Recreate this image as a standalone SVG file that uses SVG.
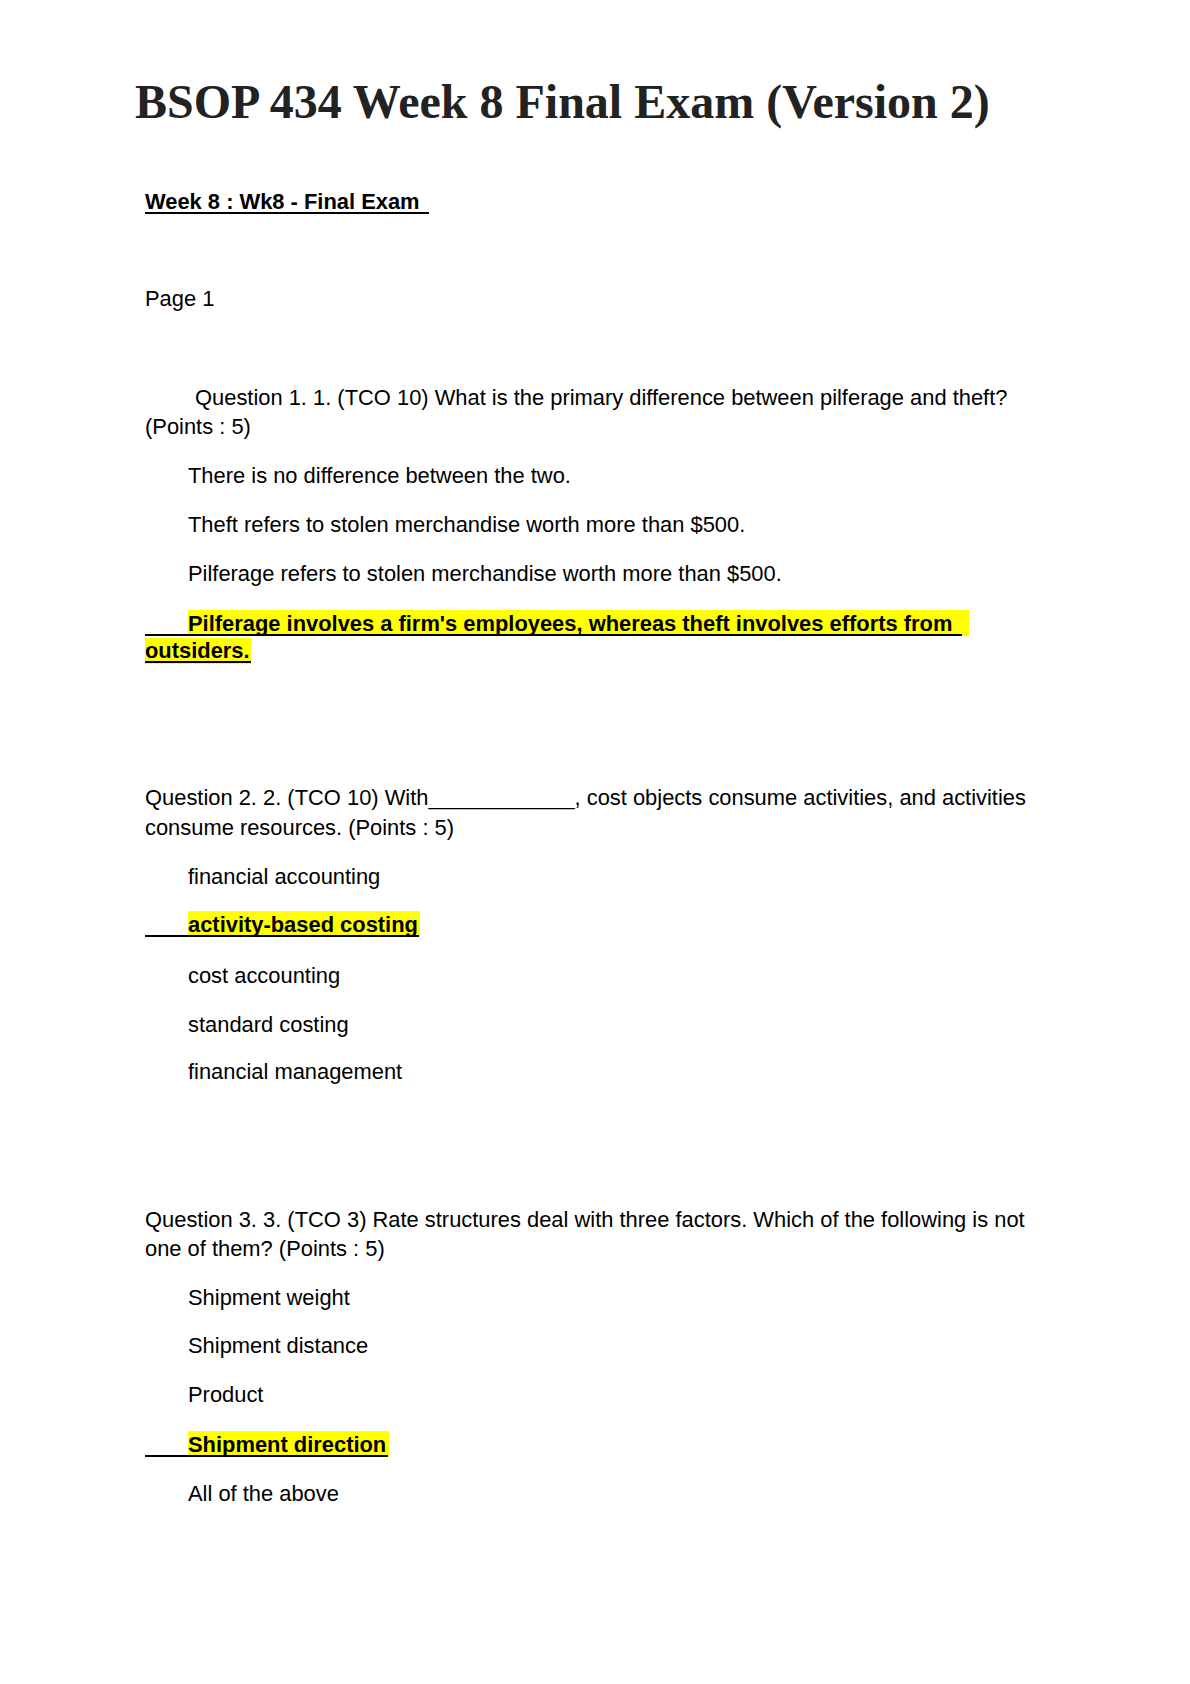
<svg xmlns="http://www.w3.org/2000/svg" width="1190" height="1684" viewBox="0 0 1190 1684">
<style>
text{font-family:"Liberation Sans",Arial,sans-serif;font-size:21.9px;fill:#000}
.t{font-family:"Liberation Serif","Times New Roman",serif;font-size:48px;font-weight:bold;fill:#222}
.b{font-weight:bold}
.hl{fill:#ffff00}
.u{stroke:#000;stroke-width:1.8}
</style>
<rect width="1190" height="1684" fill="#fff"/>
<text class="t" x="135" y="118">BSOP 434 Week 8 Final Exam (Version 2)</text>
<text class="b" x="145" y="209">Week 8 : Wk8 - Final Exam </text>
<line class="u" x1="145" y1="213" x2="429" y2="213"/>
<text x="145" y="306">Page 1</text>
<g id="q1">
<text x="195" y="405">Question 1. 1. (TCO 10) What is the primary difference between pilferage and theft?</text>
<text x="145" y="434">(Points : 5)</text>
<text x="188" y="483">There is no difference between the two.</text>
<text x="188" y="532">Theft refers to stolen merchandise worth more than $500.</text>
<text x="188" y="581">Pilferage refers to stolen merchandise worth more than $500.</text>
<rect class="hl" x="188" y="610" width="781" height="26"/>
<rect class="hl" x="145" y="638" width="106" height="26"/>
<text class="b" x="188" y="631">Pilferage involves a firm's employees, whereas theft involves efforts from</text>
<text class="b" x="145" y="658">outsiders.</text>
<line class="u" x1="145" y1="635" x2="962" y2="635"/>
<line class="u" x1="145" y1="662" x2="251" y2="662"/>
</g>
<g id="q2">
<text x="145" y="805">Question 2. 2. (TCO 10) With____________, cost objects consume activities, and activities</text>
<text x="145" y="835">consume resources. (Points : 5)</text>
<text x="188" y="884">financial accounting</text>
<rect class="hl" x="188" y="911" width="232" height="26"/>
<text class="b" x="188" y="932">activity-based costing</text>
<line class="u" x1="145" y1="936" x2="419" y2="936"/>
<text x="188" y="983">cost accounting</text>
<text x="188" y="1032">standard costing</text>
<text x="188" y="1079">financial management</text>
</g>
<g id="q3">
<text x="145" y="1227">Question 3. 3. (TCO 3) Rate structures deal with three factors. Which of the following is not</text>
<text x="145" y="1256">one of them? (Points : 5)</text>
<text x="188" y="1305">Shipment weight</text>
<text x="188" y="1353">Shipment distance</text>
<text x="188" y="1402">Product</text>
<rect class="hl" x="188" y="1431" width="201" height="26"/>
<text class="b" x="188" y="1452">Shipment direction</text>
<line class="u" x1="145" y1="1456" x2="388" y2="1456"/>
<text x="188" y="1501">All of the above</text>
</g>
</svg>
